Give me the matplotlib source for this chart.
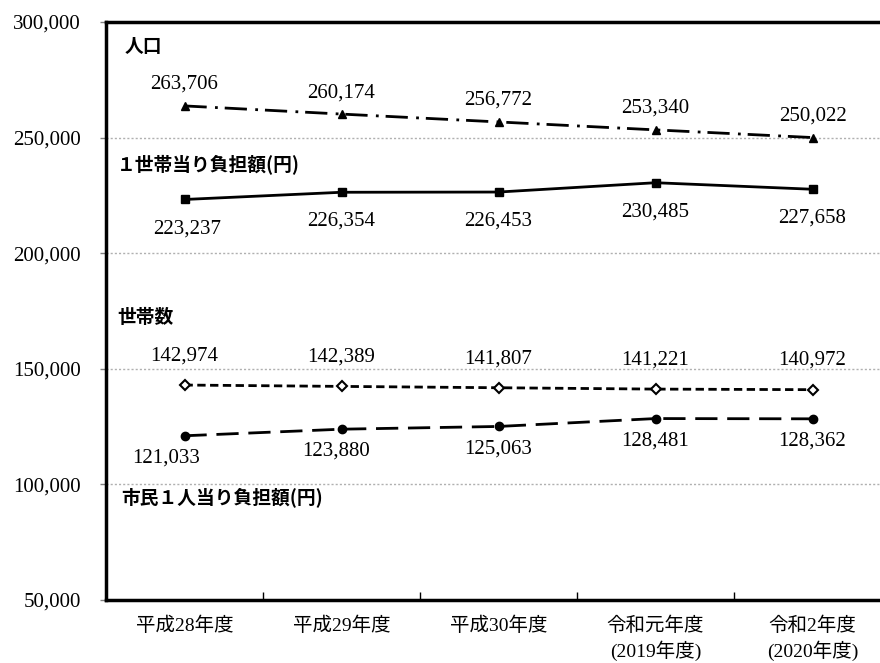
import matplotlib.pyplot as plt

plt.rcParams['font.family'] = ['Liberation Serif', 'Noto Sans CJK JP']

years = ['平成28年度', '平成29年度', '平成30年度', '令和元年度\n(2019年度)', '令和2年度\n(2020年度)']
population = [263706, 260174, 256772, 253340, 250022]
per_household = [223237, 226354, 226453, 230485, 227658]
households = [142974, 142389, 141807, 141221, 140972]
per_citizen = [121033, 123880, 125063, 128481, 128362]

fig = plt.figure(figsize=(8.8, 6.63), dpi=100)
ax = fig.add_axes([106 / 880, 63 / 663, 785 / 880, 578 / 663])
x = range(len(years))

ax.plot(x, population, color='black', lw=2, dashes=(8, 3, 1, 2.5),
        marker='^', ms=5.5, zorder=3)
ax.plot(x, per_household, color='black', lw=2, ls='-',
        marker='s', ms=6, zorder=3)
ax.plot(x, households, color='black', lw=2, dashes=(3, 1.6),
        marker='D', ms=5, mfc='white', mec='black', mew=1.5, zorder=3)
ax.plot(x, per_citizen, color='black', lw=2, dashes=(8, 3.5),
        marker='o', ms=6, zorder=3)

def label(vals, dy, dx=None):
    for i, v in enumerate(vals):
        ox = dx[i] if dx else 0
        ax.annotate(f'{v:,}', (i, v), xytext=(ox, dy), textcoords='offset points',
                    ha='center', va='center', fontsize=15,
                    family='Liberation Serif')

label(population, 15.5)
label(per_household, -21, [2, 0, 0, 0, 0])
label(households, 21)
label(per_citizen, -16, [-13, -4, 0, 0, 0])

jp = dict(family='Noto Sans CJK JP', fontweight='bold', fontsize=13.5,
          ha='left', va='center')
ax.text(-0.38, 289600, '人口', **jp)
ax.text(-0.43, 238600, '１世帯当り負担額(円)', **jp)
ax.text(-0.43, 172000, '世帯数', **jp)
ax.text(-0.40, 94500, '市民１人当り負担額(円)', **jp)

ax.set_xlim(-0.5, 4.5)
ax.set_ylim(50000, 300000)
ax.set_yticks(range(50000, 300001, 50000))
ax.set_yticklabels([f'{v:,}' for v in range(50000, 300001, 50000)], fontsize=15)
ax.tick_params(axis='y', length=4, width=1, pad=14, color='gray')
for v in range(100000, 300000, 50000):
    ax.axhline(v, color='#b0b0b0', lw=1, ls=(0, (1.5, 1.5)), zorder=1)

ax.set_xticks([0.5, 1.5, 2.5, 3.5])
ax.set_xticklabels([])
ax.tick_params(axis='x', which='major', direction='in', length=6, width=1)
ax.set_xticks(list(x), minor=True)
ax.set_xticklabels(years, minor=True, fontsize=14, linespacing=1.35, va='top')
ax.tick_params(axis='x', which='minor', length=0, pad=12)

for s in ['left', 'bottom', 'top']:
    ax.spines[s].set_linewidth(2.5)
ax.spines['right'].set_visible(False)

plt.savefig('out.png', dpi=100)
